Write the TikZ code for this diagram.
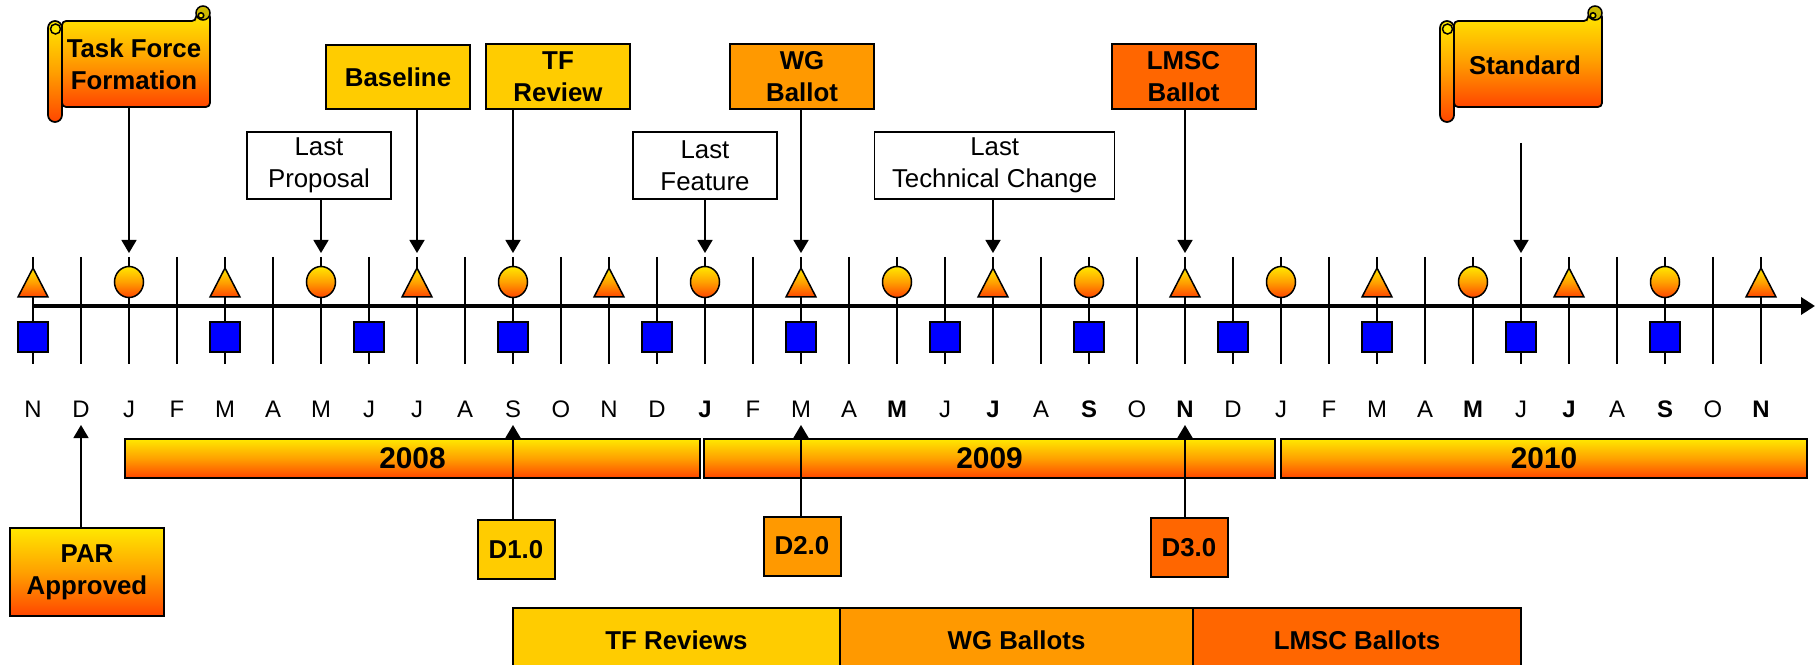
\documentclass[tikz,border=0pt]{standalone}
\usepackage{fontspec}
\setmainfont{Liberation Sans}
\usetikzlibrary{arrows.meta,shapes.geometric}
\definecolor{jaune}{RGB}{255,232,0}
\definecolor{orangemilieu}{RGB}{255,160,0}
\definecolor{rougeorange}{RGB}{255,70,0}
\definecolor{dore}{RGB}{255,204,0}
\definecolor{orangewg}{RGB}{255,153,0}
\definecolor{orangelmsc}{RGB}{255,102,0}
\definecolor{bleu}{RGB}{0,0,255}
\definecolor{enroule}{RGB}{204,184,0}
% Parchemin (decalage horizontal en px)
\newcommand{\Parchemin}[1]{%
  \begin{scope}[shift={(#1,0)}]
    \draw[parchemin] (62,21) -- (196,21) -- (196,13) -- (210,13) -- (210,107) -- (62,107) -- cycle;
    \draw[contour,fill=enroule] (203,13) circle (1.4mm);
    \draw[contour,fill=jaune] (201,15.5) circle (0.55mm);
    \draw[parchemin,rounded corners=1.4mm] (48,21) rectangle (62,122);
    \draw[contour,fill=jaune] (55.5,29) circle (1mm);
  \end{scope}}
\begin{document}
\begin{tikzpicture}[x=0.2mm,y=-0.2mm]
% Styles
\tikzstyle{contour}=[line width=0.3mm]
\tikzstyle{degrade}=[top color=jaune,bottom color=rougeorange,middle color=orangemilieu]
\tikzstyle{parchemin}=[draw,line width=0.35mm,rounded corners=0.8mm,degrade]
\tikzstyle{fleche}=[-{Triangle[width=3mm,length=2.6mm]},line width=0.3mm]
\tikzstyle{axe}=[-{Triangle[width=3.4mm,length=2.8mm]},line width=0.95mm]
\tikzstyle{graduation}=[line width=0.3mm]
\tikzstyle{delta}=[draw,line width=0.3mm,degrade]
\tikzstyle{rond}=[ellipse,draw,line width=0.3mm,degrade,minimum width=5.8mm,minimum height=6.2mm,inner sep=0]
\tikzstyle{carre}=[draw,line width=0.3mm,fill=bleu,minimum size=6mm,inner sep=0]
\tikzstyle{mois}=[anchor=base,inner sep=0,font=\fontsize{13.6}{16}\selectfont]
\tikzstyle{boite}=[draw,line width=0.4mm,inner sep=0,align=center,font=\bfseries\fontsize{14.7}{18.4}\selectfont]
\tikzstyle{remarque}=[draw,line width=0.3mm,fill=white,inner sep=0,align=center,minimum height=13.4mm,font=\fontsize{14.7}{18.4}\selectfont]
\tikzstyle{texteparchemin}=[inner sep=0,align=center,font=\bfseries\fontsize{14.7}{18.4}\selectfont]
\tikzstyle{annee}=[draw,line width=0.3mm,degrade,inner sep=0,minimum height=7.8mm,font=\bfseries\fontsize{17}{20}\selectfont]
\tikzstyle{phase}=[draw,line width=0.3mm,inner sep=0,minimum height=12.8mm,font=\bfseries\fontsize{14.7}{18.4}\selectfont]
% Dimensions
\def\Ox{33}
\def\Pas{48}
\useasboundingbox (0,0) rectangle (1816,665);
\clip (0,0) rectangle (1816,665);
% Parchemins
\Parchemin{0}
\Parchemin{1392}
\node[texteparchemin,minimum height=17.2mm] (TaskForce) at (134,64) {Task Force\\Formation};
\node[texteparchemin] (Standard) at (1525,65) {Standard};
% Boites du haut
\node[boite,fill=dore,minimum width=28.8mm,minimum height=12.8mm] (Baseline) at (398,77) {Baseline};
\node[boite,fill=dore,minimum width=28.8mm,minimum height=13mm] (TFReview) at (558,76.5) {TF\\Review};
\node[boite,fill=orangewg,minimum width=28.8mm,minimum height=13mm] (WGBallot) at (802,76.5) {WG\\Ballot};
\node[boite,fill=orangelmsc,minimum width=28.8mm,minimum height=13mm] (LMSCBallot) at (1183.5,76.5) {LMSC\\Ballot};
\node[remarque,minimum width=28.8mm] (LastProposal) at (319,165.5) {Last\\Proposal};
\node[remarque,minimum width=28.8mm] (LastFeature) at (705,165.5) {Last\\Feature};
\node[remarque,minimum width=48mm] (LastTechChange) at (994.7,165.5) {Last\\Technical Change};
% Graduations
\foreach \i in {0,...,36} {
  \draw[graduation] ({\Ox+\i*\Pas},257) -- ({\Ox+\i*\Pas},364);
  \coordinate (h\i) at ({\Ox+\i*\Pas},253);
  \coordinate (b\i) at ({\Ox+\i*\Pas},425);
}
\coordinate (debut) at (\Ox,306);
\coordinate (fin) at (1815,306);
\draw[axe] (debut) -- (fin);
% Jalons
\foreach \i in {0,4,...,36}
  \draw[delta] ({\Ox+\i*\Pas-15},297) -- ++(30,0) -- ++(-15,-29) -- cycle;
\foreach \i in {2,6,...,34}
  \node[rond] (c\i) at ({\Ox+\i*\Pas},282) {};
\foreach \i in {0,4,7,10,13,16,19,22,25,28,31,34}
  \node[carre] (s\i) at ({\Ox+\i*\Pas},337) {};
% Mois
\foreach \m [count=\i from 0] in {N,D,J,F,M,A,M,J,J,A,S,O,N,D,\textbf{J},F,M,A,\textbf{M},J,\textbf{J},A,\textbf{S},O,\textbf{N},D,J,F,M,A,\textbf{M},J,\textbf{J},A,\textbf{S},O,\textbf{N}}
  \node[mois] (l\i) at ({\Ox+\i*\Pas},417) {\m};
% Annees
\node[annee,minimum width=115mm] (A2008) at (412.5,458.5) {2008};
\node[annee,minimum width=114.2mm] (A2009) at (989.5,458.5) {2009};
\node[annee,minimum width=105.2mm] (A2010) at (1544,458.5) {2010};
% Boites du bas
\node[boite,degrade,minimum width=30.8mm,minimum height=17.6mm] (PAR) at (87,572) {PAR\\Approved};
\node[boite,fill=dore,minimum width=15.4mm,minimum height=11.8mm] (D1) at (516,549.5) {D1.0};
\node[boite,fill=orangewg,minimum width=15.4mm,minimum height=11.8mm] (D2) at (802,546) {D2.0};
\node[boite,fill=orangelmsc,minimum width=15.4mm,minimum height=11.8mm] (D3) at (1189,547.5) {D3.0};
\node[phase,fill=dore,minimum width=65.4mm] (TFReviews) at (676.5,640) {TF Reviews};
\node[phase,fill=orangewg,minimum width=70.6mm] (WGBallots) at (1016.5,640) {WG Ballots};
\node[phase,fill=orangelmsc,minimum width=65.6mm] (LMSCBallots) at (1357,640) {LMSC Ballots};
% Fleches
\coordinate (depStd) at (1521,143);
\draw[fleche] (TaskForce.south -| h2) -- (h2);
\draw[fleche] (LastProposal.south -| h6) -- (h6);
\draw[fleche] (Baseline.south -| h8) -- (h8);
\draw[fleche] (TFReview.south -| h10) -- (h10);
\draw[fleche] (LastFeature.south -| h14) -- (h14);
\draw[fleche] (WGBallot.south -| h16) -- (h16);
\draw[fleche] (LastTechChange.south -| h20) -- (h20);
\draw[fleche] (LMSCBallot.south -| h24) -- (h24);
\draw[fleche] (depStd) -- (h31);
\draw[fleche] (PAR.north -| b1) -- (b1);
\draw[fleche] (D1.north -| b10) -- (b10);
\draw[fleche] (D2.north -| b16) -- (b16);
\draw[fleche] (D3.north -| b24) -- (b24);
\end{tikzpicture}
\end{document}
